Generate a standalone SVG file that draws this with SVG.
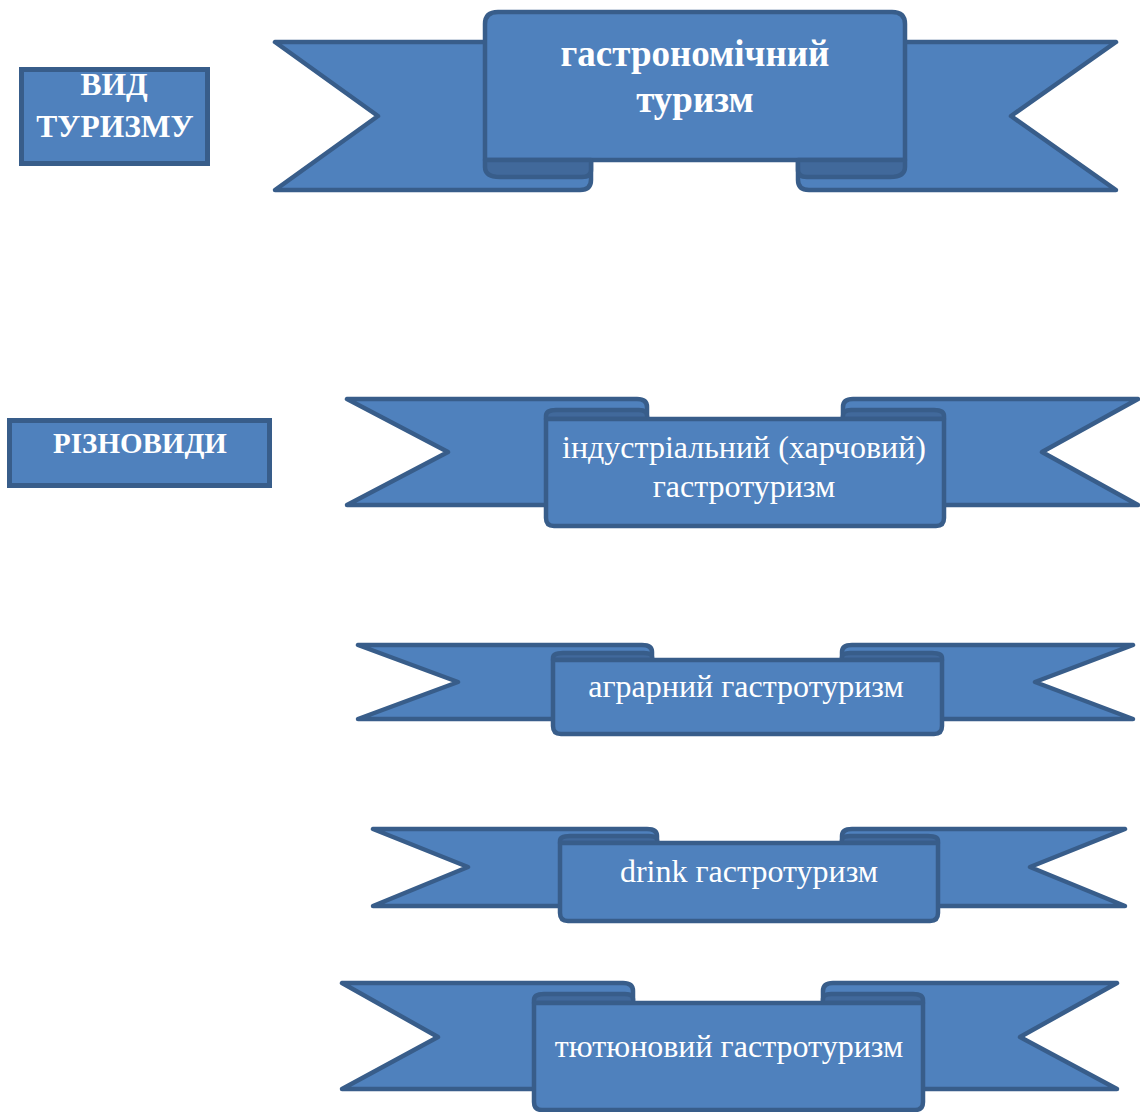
<svg xmlns="http://www.w3.org/2000/svg" width="1140" height="1112" viewBox="0 0 1140 1112">
<style>
  .sh { fill:#4f81bd; stroke:#385d8a; stroke-width:4.5; stroke-linejoin:round; }
  .curl { fill:#41699b; stroke:#385d8a; stroke-width:4.5; stroke-linejoin:round; }
  .box { fill:#4f81bd; stroke:#385d8a; stroke-width:5; }
  .tb { font-family:"Liberation Serif","Times New Roman",serif; font-weight:bold; fill:#ffffff; text-anchor:middle; }
  .tr { font-family:"Liberation Serif","Times New Roman",serif; fill:#ffffff; text-anchor:middle; font-size:32px; }
</style>
<rect width="1140" height="1112" fill="#ffffff"/>

<g id="label-vyd">
  <rect class="box" x="21.5" y="69.5" width="186" height="94"/>
  <text class="tb" x="114" y="95" font-size="31.5">ВИД</text>
  <text class="tb" x="115" y="137" font-size="31.5">ТУРИЗМУ</text>
</g>

<g id="label-riznovydy">
  <rect class="box" x="9.5" y="420.5" width="260" height="65"/>
  <text class="tb" x="140" y="453" font-size="29">РІЗНОВИДИ</text>
</g>

<g id="ribbon-main">
  <path class="sh" d="M275,42 L591,42 L591,180 Q591,190 580,190 L275,190 L378,116 Z"/>
  <path class="sh" d="M1116,42 L798,42 L798,180 Q798,190 809,190 L1116,190 L1011,116 Z"/>
  <path class="sh" d="M485,160 L485,24 Q485,12 498,12 L892,12 Q905,12 905,24 L905,160 Z"/>
  <path class="curl" d="M485,160 L485,167 Q485,177 500,177 L582,177 Q591,177 591,170 L591,160 Z"/>
  <path class="curl" d="M905,160 L905,167 Q905,177 890,177 L807,177 Q798,177 798,170 L798,160 Z"/>
  <text class="tb" x="695" y="66" font-size="37">гастрономічний</text>
  <text class="tb" x="695" y="112" font-size="37">туризм</text>
</g>

<g id="ribbon-industrial">
  <path class="sh" d="M347,399 L637,399 Q647,399 647,407 L647,505 L347,505 L448,452 Z"/>
  <path class="sh" d="M1138,399 L853,399 Q843,399 843,407 L843,505 L1138,505 L1042,452 Z"/>
  <path class="curl" d="M546,419 L546,416 Q546,410 556,410 L639,410 Q647,410 647,416 L647,419 Z"/>
  <path class="curl" d="M944,419 L944,416 Q944,410 934,410 L851,410 Q843,410 843,416 L843,419 Z"/>
  <path class="sh" d="M546,419 L944,419 L944,518 Q944,526 936,526 L554,526 Q546,526 546,518 Z"/>
  <text class="tr" x="744" y="458">індустріальний (харчовий)</text>
  <text class="tr" x="744" y="497">гастротуризм</text>
</g>

<g id="ribbon-agrarian">
  <path class="sh" d="M358,645 L642,645 Q652,645 652,652 L652,719 L358,719 L458,682 Z"/>
  <path class="sh" d="M1133,645 L852,645 Q842,645 842,652 L842,719 L1133,719 L1035,682 Z"/>
  <path class="curl" d="M553,660 L553,658 Q553,653 563,653 L644,653 Q652,653 652,657 L652,660 Z"/>
  <path class="curl" d="M942,660 L942,658 Q942,653 932,653 L850,653 Q842,653 842,657 L842,660 Z"/>
  <path class="sh" d="M553,660 L942,660 L942,726 Q942,734 934,734 L561,734 Q553,734 553,726 Z"/>
  <text class="tr" x="746" y="697">аграрний гастротуризм</text>
</g>

<g id="ribbon-drink">
  <path class="sh" d="M373,829 L647,829 Q657,829 657,836 L657,906 L373,906 L468,867 Z"/>
  <path class="sh" d="M1125,829 L852,829 Q842,829 842,836 L842,906 L1125,906 L1030,867 Z"/>
  <path class="curl" d="M560,843 L560,841 Q560,836 570,836 L649,836 Q657,836 657,840 L657,843 Z"/>
  <path class="curl" d="M938,843 L938,841 Q938,836 928,836 L850,836 Q842,836 842,840 L842,843 Z"/>
  <path class="sh" d="M560,843 L938,843 L938,913 Q938,921 930,921 L568,921 Q560,921 560,913 Z"/>
  <text class="tr" x="749" y="882">drink гастротуризм</text>
</g>

<g id="ribbon-tobacco">
  <path class="sh" d="M342,983 L623,983 Q633,983 633,991 L633,1089 L342,1089 L438,1037 Z"/>
  <path class="sh" d="M1117,983 L833,983 Q823,983 823,991 L823,1089 L1117,1089 L1020,1037 Z"/>
  <path class="curl" d="M534,1003 L534,1000 Q534,994 544,994 L625,994 Q633,994 633,999 L633,1003 Z"/>
  <path class="curl" d="M923,1003 L923,1000 Q923,994 913,994 L831,994 Q823,994 823,999 L823,1003 Z"/>
  <path class="sh" d="M534,1003 L923,1003 L923,1102 Q923,1110 915,1110 L542,1110 Q534,1110 534,1102 Z"/>
  <text class="tr" x="729" y="1057">тютюновий гастротуризм</text>
</g>

<g id="connectors"></g>
</svg>
